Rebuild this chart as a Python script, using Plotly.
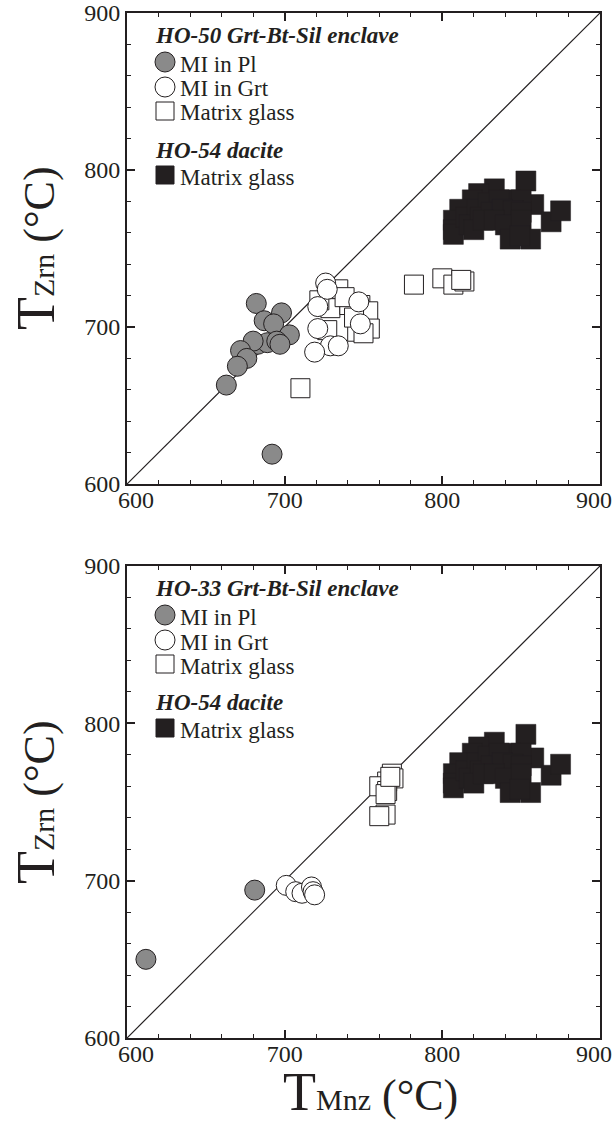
import plotly.graph_objects as go

# ---------------- data ----------------
# Top panel: HO-50 Grt-Bt-Sil enclave
top_pl_x = [682, 698, 687, 693, 703, 683, 689, 695, 697, 680, 672, 676, 670, 663, 692]
top_pl_y = [715, 709, 704, 702, 695, 689, 690, 691, 689, 691, 685, 680, 675, 663, 619]

top_grt_x = [726, 727, 721, 747, 748, 721, 729, 734, 719]
top_grt_y = [728, 724, 713, 716, 702, 699, 688, 688, 684]

top_mg_x = [734, 729, 748, 753, 754, 746, 750, 722, 741, 727, 744, 738, 710, 782, 800, 807, 814, 812]
top_mg_y = [724, 712, 714, 710, 699, 697, 696, 717, 714, 698, 706, 719, 661, 727, 731, 727, 729, 730]

# Bottom panel: HO-33 Grt-Bt-Sil enclave
bot_pl_x = [612, 681]
bot_pl_y = [650, 694]

bot_grt_x = [701, 707, 711, 717, 718, 719]
bot_grt_y = [697, 693, 692, 696, 693, 691]

bot_mg_x = [768, 769, 765, 760, 765, 764, 764, 760, 767]
bot_mg_y = [768, 765, 763, 760, 757, 755, 742, 741, 766]

# HO-54 dacite matrix glass (both panels)
dac_x = [853, 833, 823, 819, 811, 807, 807, 807, 858, 843, 850,
         815, 822, 829, 836, 817, 824, 831, 838, 845, 850, 820, 826, 833, 840, 850,
         843, 856, 849, 869, 875]
dac_y = [793, 788, 785, 781, 775, 768, 762, 759, 778, 781, 781,
         770, 775, 779, 781, 765, 770, 773, 775, 774, 773, 762, 768, 768, 765, 768,
         756, 756, 758, 767, 774]

one_to_one = [600, 900]
major_ticks = [600, 700, 800, 900]
tick_labels = ["600", "700", "800", "900"]

top_title = "HO-50 Grt-Bt-Sil enclave"
bot_title = "HO-33 Grt-Bt-Sil enclave"
legend_items = ["MI in Pl", "MI in Grt", "Matrix glass"]
dacite_title = "HO-54 dacite"
dacite_item = "Matrix glass"

# ---------------- style ----------------
INK = "#231f20"
GREY = "#8a8a8a"
FONT = "Liberation Serif, Times New Roman, serif"
NB = "\u00a0"

W, H = 616, 1121
ML, MR, MT, MB = 127, 16, 13, 83
PW = W - ML - MR
PH = H - MT - MB


def px_x(x):
    return (x - ML) / PW


def px_y(y):
    return (H - MB - y) / PH


top_dom = [px_y(484), px_y(13)]
bot_dom = [px_y(1038), px_y(566)]

fig = go.Figure()


def add_panel(xa, ya, mg_x, mg_y, grt_x, grt_y, pl_x, pl_y):
    fig.add_trace(go.Scatter(x=one_to_one, y=one_to_one, mode="lines",
                             line=dict(color=INK, width=1.2), xaxis=xa, yaxis=ya,
                             showlegend=False, hoverinfo="skip"))
    fig.add_trace(go.Scatter(x=dac_x, y=dac_y, mode="markers", xaxis=xa, yaxis=ya,
                             marker=dict(symbol="square", size=20, color=INK,
                                         line=dict(color=INK, width=0.5)),
                             showlegend=False))
    fig.add_trace(go.Scatter(x=mg_x, y=mg_y, mode="markers", xaxis=xa, yaxis=ya,
                             marker=dict(symbol="square", size=19, color="white",
                                         line=dict(color=INK, width=1)),
                             showlegend=False))
    fig.add_trace(go.Scatter(x=grt_x, y=grt_y, mode="markers", xaxis=xa, yaxis=ya,
                             marker=dict(symbol="circle", size=20, color="white",
                                         line=dict(color=INK, width=1)),
                             showlegend=False))
    fig.add_trace(go.Scatter(x=pl_x, y=pl_y, mode="markers", xaxis=xa, yaxis=ya,
                             marker=dict(symbol="circle", size=20, color=GREY,
                                         line=dict(color=INK, width=1)),
                             showlegend=False))


add_panel("x", "y", top_mg_x, top_mg_y, top_grt_x, top_grt_y, top_pl_x, top_pl_y)
add_panel("x2", "y2", bot_mg_x, bot_mg_y, bot_grt_x, bot_grt_y, bot_pl_x, bot_pl_y)

axis_common = dict(
    range=[600, 900], tickvals=major_ticks, ticks="inside", ticklen=8, tickwidth=1.5,
    tickcolor=INK, showline=True, linewidth=2, linecolor=INK, mirror="allticks",
    showgrid=False, zeroline=False, automargin=False,
    tickfont=dict(family=FONT, size=24, color=INK),
    minor=dict(dtick=20, ticks="inside", ticklen=4, tickwidth=1, tickcolor=INK,
               showgrid=False),
)
x_text = [NB * 3 + tick_labels[0], tick_labels[1], tick_labels[2], tick_labels[3] + NB * 2]
x_extra = dict(ticktext=x_text, ticklabeloverflow="allow", ticklabelstandoff=-7)
y_extra = dict(ticktext=tick_labels)

fig.update_layout(
    template="none",
    width=W, height=H,
    margin=dict(l=ML, r=MR, t=MT, b=MB, autoexpand=False),
    paper_bgcolor="white", plot_bgcolor="white",
    showlegend=False,
    xaxis=dict(domain=[0, 1], anchor="y", **axis_common, **x_extra),
    yaxis=dict(domain=top_dom, anchor="x", **axis_common, **y_extra),
    xaxis2=dict(domain=[0, 1], anchor="y2", **axis_common, **x_extra),
    yaxis2=dict(domain=bot_dom, anchor="x2", **axis_common, **y_extra),
)

annotations = []
shapes = []


def legend_block(top_px, title):
    rows = [22, 51, 76, 100, 137, 164]
    ys = [px_y(top_px + r) for r in rows]
    annotations.append(dict(text="<b><i>%s</i></b>" % title, x=px_x(153), y=ys[0],
                            xref="paper", yref="paper", xanchor="left", yanchor="middle",
                            showarrow=False, font=dict(family=FONT, size=23, color=INK)))
    for i, label in enumerate(legend_items):
        annotations.append(dict(text=label, x=px_x(178), y=ys[i + 1],
                                xref="paper", yref="paper", xanchor="left", yanchor="middle",
                                showarrow=False, font=dict(family=FONT, size=23, color=INK)))
    annotations.append(dict(text="<b><i>%s</i></b>" % dacite_title, x=px_x(153), y=ys[4],
                            xref="paper", yref="paper", xanchor="left", yanchor="middle",
                            showarrow=False, font=dict(family=FONT, size=23, color=INK)))
    annotations.append(dict(text=dacite_item, x=px_x(178), y=ys[5],
                            xref="paper", yref="paper", xanchor="left", yanchor="middle",
                            showarrow=False, font=dict(family=FONT, size=23, color=INK)))
    cx = px_x(165)
    sym = [("circle", GREY), ("circle", "white"), ("rect", "white"), (None, None), ("rect", INK)]
    for i, (kind, fill) in enumerate(sym):
        if kind is None:
            continue
        yy = ys[i + 1] + (2 / PH)
        r = 10 if kind == "circle" else 9
        shapes.append(dict(type=kind, xref="paper", yref="paper",
                           xsizemode="pixel", ysizemode="pixel",
                           xanchor=cx, yanchor=yy, x0=-r, x1=r, y0=-r, y1=r,
                           fillcolor=fill, line=dict(color=INK, width=1)))


legend_block(13, top_title)
legend_block(566, bot_title)

ytitle = ('<span style="font-size:54px">T</span><span style="font-size:30px">Zrn</span>'
          ' (°C)')
xtitle = ('<span style="font-size:54px">T</span><span style="font-size:30px">Mnz</span>'
          ' (°C)')
for yc in (248, 802):
    annotations.append(dict(text=ytitle, x=px_x(36), y=px_y(yc), xref="paper", yref="paper",
                            xanchor="center", yanchor="middle", textangle=-90, showarrow=False,
                            font=dict(family=FONT, size=44, color=INK)))
annotations.append(dict(text=xtitle, x=px_x(370), y=px_y(1092), xref="paper", yref="paper",
                        xanchor="center", yanchor="middle", showarrow=False,
                        font=dict(family=FONT, size=44, color=INK)))

fig.update_layout(annotations=annotations, shapes=shapes)

fig.write_html("out.html")
